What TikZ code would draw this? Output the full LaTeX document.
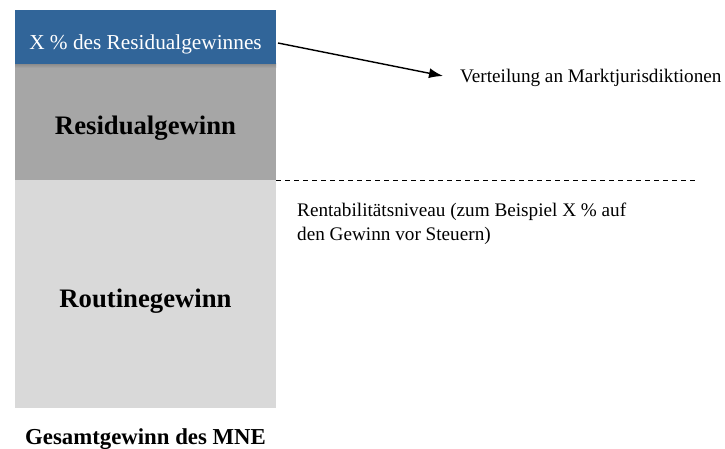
\documentclass[tikz,border=0pt]{standalone}
\usepackage{fontspec}
\setmainfont{Liberation Serif}
\usetikzlibrary{arrows.meta, positioning, calc}
\definecolor{shareColor}{RGB}{49, 101, 153}
\definecolor{residualColor}{RGB}{166, 166, 166}
\definecolor{routineColor}{RGB}{217, 217, 217}

\begin{document}
\begin{tikzpicture}[x=1pt, y=1pt,
    block/.style={minimum width=261pt, inner sep=0pt, outer sep=0pt, anchor=north west},
    blocktext/.style={font=\fontsize{26.7}{30}\selectfont\bfseries, text height=32pt, text depth=6pt},
    note/.style={font=\fontsize{19.2}{24}\selectfont, inner sep=0pt}]
    \useasboundingbox (0,0) rectangle (725,448);

    % Stacked profit blocks
    \node[block, blocktext, fill=routineColor, minimum height=228pt] (routine) at (15,268) {Routinegewinn};
    \node[block, blocktext, fill=residualColor, minimum height=116pt] (residual) at (15,384) {Residualgewinn};
    \shade[top color=black!45, bottom color=residualColor] (15,384) rectangle (276,380);
    \node[block, fill=shareColor, minimum height=54pt, text=white, font=\fontsize{21.3}{24}\selectfont, text height=30pt, text depth=5pt] (share) at (15,438) {X \% des Residualgewinnes};

    % Total label
    \node[font=\fontsize{22.8}{26}\selectfont\bfseries, inner sep=0pt, below=20pt of routine] (total) {Gesamtgewinn des MNE};

    % Distribution arrow
    \node[note, anchor=west] (distrib) at (460,370) {Verteilung an Marktjurisdiktionen};
    \draw[-{Latex[length=14pt, width=10pt]}, line width=1.4pt] ($(share.east)+(2,-6)$) -- ($(distrib.west)+(-17,2)$);

    % Profitability threshold
    \coordinate (threshold) at (698,268);
    \draw[dashed, dash pattern=on 5pt off 4pt, line width=0.8pt] (residual.south east) -- (threshold);
    \node[note, anchor=north west, align=left] (level) at (297,245) {Rentabilitätsniveau (zum Beispiel X \% auf\\den Gewinn vor Steuern)};

\end{tikzpicture}
\end{document}
